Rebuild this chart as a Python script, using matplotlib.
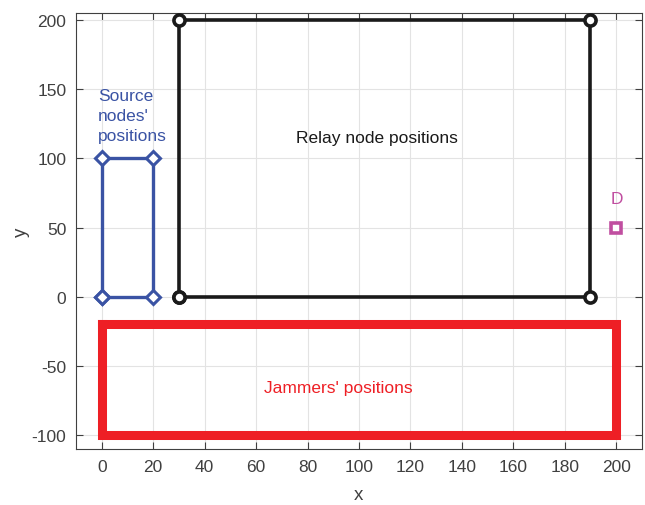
import numpy as np
import matplotlib.pyplot as plt

# Source nodes' positions (corners of rectangle)
src_x = [0, 0, 20, 20, 0]
src_y = [0, 100, 100, 0, 0]

# Relay node positions (corners)
relay_x = [30, 30, 190, 190, 30]
relay_y = [0, 200, 200, 0, 0]

# Jammers' positions (region)
jam_x = [0, 0, 200, 200, 0]
jam_y = [-20, -100, -100, -20, -20]

# Destination
dest_x = [200]
dest_y = [50]

xticks = list(range(0, 201, 20))
yticks = list(range(-100, 201, 50))

plt.rcParams['font.family'] = ['Liberation Sans', 'DejaVu Sans']
plt.rcParams['axes.unicode_minus'] = False

fig = plt.figure(figsize=(6.45, 5.06), dpi=100)
ax = fig.add_axes([0.118, 0.111, 0.877, 0.861])

blue = '#3a53a4'
red = '#ee1f25'
black = '#1a1a1a'
mag = '#c04ea0'

ax.plot(jam_x, jam_y, color=red, linewidth=6.5, solid_joinstyle='miter', zorder=3)
ax.plot(src_x, src_y, color=blue, linewidth=2.4, marker='D', markersize=7,
        markeredgewidth=2.2, markerfacecolor='white', zorder=4)
ax.plot(relay_x, relay_y, color=black, linewidth=2.6, marker='o', markersize=8,
        markeredgewidth=2.6, markerfacecolor='white', zorder=4)
ax.plot(dest_x, dest_y, color=mag, marker='s', markersize=7, markeredgewidth=2.6,
        markerfacecolor='white', linestyle='none', zorder=4)

ax.text(-1.5, 131, "Source\nnodes'\npositions", color=blue, fontsize=12.5,
        ha='left', va='center', linespacing=1.45)
ax.text(107, 115, 'Relay node positions', color=black, fontsize=12.5, ha='center', va='center')
ax.text(92, -66, "Jammers' positions", color=red, fontsize=12.5, ha='center', va='center')
ax.text(200.5, 71, 'D', color=mag, fontsize=12.5, ha='center', va='center')

ax.set_xlim(-10, 210)
ax.set_ylim(-110, 205)
ax.set_xticks(xticks)
ax.set_yticks(yticks)
ax.grid(True, color='#e3e3e3', linewidth=0.8)
ax.set_axisbelow(True)
ax.tick_params(direction='in', top=True, right=True, length=5, width=0.8,
               colors='#404040', labelsize=12.5, labelcolor='#404040', pad=7)
for s in ax.spines.values():
    s.set_color('#404040')
    s.set_linewidth(0.8)
ax.set_xlabel('x', fontsize=13.5, color='#404040', labelpad=9)
ax.set_ylabel('y', fontsize=13.5, color='#404040', labelpad=1)

fig.savefig('out.png', dpi=100)
